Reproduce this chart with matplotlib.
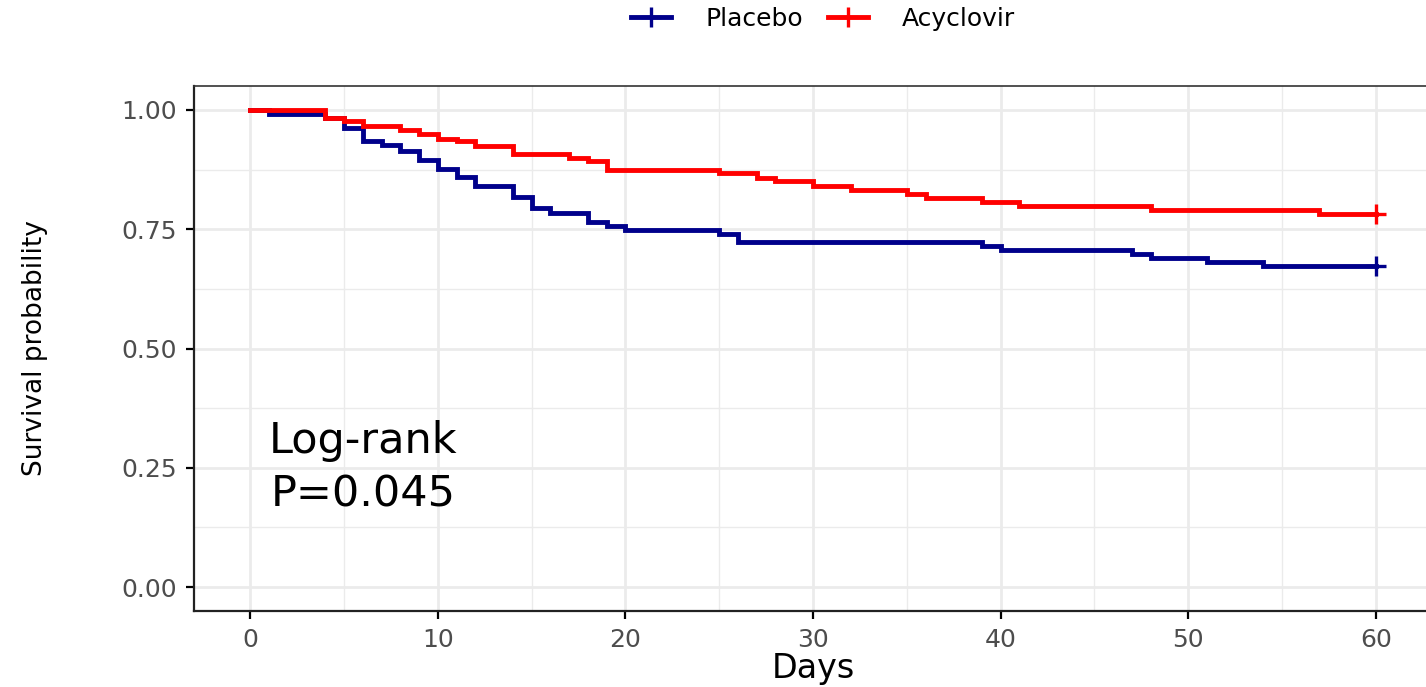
import matplotlib
matplotlib.use("Agg")
import matplotlib.pyplot as plt
from matplotlib.lines import Line2D
import numpy as np

# ---- data ----
placebo_days = [0, 1, 4, 5, 6, 7, 8, 9, 10, 11, 12, 14, 15, 16, 18, 19, 20,
                25, 26, 39, 40, 47, 48, 51, 54, 60]
placebo_surv = [1.0, 0.992, 0.984, 0.961, 0.934, 0.927, 0.913, 0.895, 0.876,
                0.860, 0.841, 0.818, 0.794, 0.783, 0.765, 0.757, 0.748,
                0.740, 0.723, 0.715, 0.706, 0.698, 0.689, 0.681, 0.672, 0.672]

acyclovir_days = [0, 4, 5, 6, 8, 9, 10, 11, 12, 14, 17, 18, 19, 25, 27, 28,
                  30, 32, 35, 36, 39, 41, 48, 57, 60]
acyclovir_surv = [1.0, 0.984, 0.977, 0.966, 0.958, 0.949, 0.940, 0.934, 0.925,
                  0.907, 0.900, 0.892, 0.874, 0.867, 0.858, 0.850, 0.841,
                  0.832, 0.824, 0.815, 0.806, 0.799, 0.790, 0.782, 0.782]

groups = ["Placebo", "Acyclovir"]
colors = ["#00008B", "#FF0000"]
x_ticks = [0, 10, 20, 30, 40, 50, 60]
y_ticks = [0.00, 0.25, 0.50, 0.75, 1.00]
y_tick_labels = ["0.00", "0.25", "0.50", "0.75", "1.00"]
annotation = "Log-rank\nP=0.045"

plt.rcParams['font.family'] = ['DejaVu Sans']

W, H = 1426, 687
fig = plt.figure(figsize=(W / 100, H / 100), dpi=100)
left, right, bottom, top = 194, 1432, 611, 86
ax = fig.add_axes([left / W, (H - bottom) / H, (right - left) / W, (bottom - top) / H])

series = [(placebo_days, placebo_surv), (acyclovir_days, acyclovir_surv)]
for (d, s), c in zip(series, colors):
    ax.step(d, s, where="post", color=c, lw=3.5, solid_joinstyle="miter", zorder=3)
    ax.plot([d[-1]], [s[-1]], marker="+", ms=14, mew=2.4, color=c, zorder=4,
            linestyle="none")

ax.set_xlim(-3, 63)
ax.set_ylim(-0.05, 1.05)
ax.set_xticks(x_ticks)
ax.set_yticks(y_ticks)
ax.set_yticklabels(y_tick_labels)
ax.set_xticks([5, 15, 25, 35, 45, 55], minor=True)
ax.set_yticks([0.125, 0.375, 0.625, 0.875], minor=True)
ax.grid(which="major", color="#EBEBEB", lw=2.0, zorder=0)
ax.grid(which="minor", color="#EBEBEB", lw=1.0, zorder=0)
ax.tick_params(which="minor", length=0)
ax.tick_params(which="major", length=6, width=1.6, color="black",
               labelsize=18, labelcolor="#4D4D4D", pad=6)
for sp in ["left", "bottom"]:
    ax.spines[sp].set_color("#222222")
    ax.spines[sp].set_linewidth(1.6)
ax.spines["top"].set_color("#333333")
ax.spines["top"].set_linewidth(1.2)
ax.spines["right"].set_visible(False)

ax.set_xlabel("Days", fontsize=24, color="black", labelpad=0)
ax.text(6, 0.25, annotation, fontsize=31, ha="center", va="center",
        multialignment="center", linespacing=1.35, color="black", zorder=5)

fig.text(35 / W, 1 - 348 / H, "Survival probability", rotation=90, fontsize=19,
         ha="center", va="center", color="black")

handles = [Line2D([0], [0], color=c, lw=3.5, marker="+", ms=15, mew=2.4)
           for c in colors]
fig.legend(handles, groups, loc="center", bbox_to_anchor=(823 / W, 1 - 19 / H),
           ncol=2, frameon=False, fontsize=18, handlelength=1.6,
           columnspacing=1.0, handletextpad=1.35)

fig.savefig("out.png", dpi=100)
